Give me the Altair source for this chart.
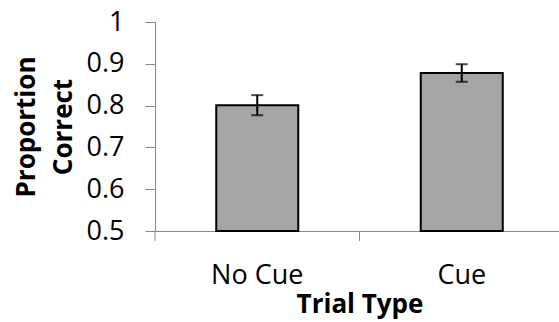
import altair as alt
import pandas as pd

categories = ["No Cue", "Cue"]
values = [0.801, 0.878]
errors = [0.024, 0.021]

df = pd.DataFrame({
    "cat": categories,
    "val": values,
    "lo": [v - e for v, e in zip(values, errors)],
    "hi": [v + e for v, e in zip(values, errors)],
})

W, H = 404, 209
FONT = "Open Sans"
AX = "#868686"

xscale = alt.Scale(domain=categories, range=[0, 409], paddingInner=0, paddingOuter=0)
yscale = alt.Scale(domain=[0.5, 1], zero=False, nice=False)

xaxis = alt.Axis(title="Trial Type", ticks=False, labelAngle=0,
                 labelFont=FONT, labelFontSize=27, labelColor="black",
                 labelBaseline="alphabetic", labelPadding=52,
                 domainColor=AX, domainWidth=1, grid=False,
                 titleFont=FONT, titleFontSize=26, titleFontWeight="bold",
                 titleColor="black", titleBaseline="alphabetic",
                 titleX=204.5, titleY=81, titleAlign="center")
yaxis = alt.Axis(title=["Proportion", "Correct"],
                 values=[0.5, 0.6, 0.7, 0.8, 0.9, 1.0], format="~g",
                 tickSize=10, tickColor=AX, domainColor=AX, grid=False,
                 labelFont=FONT, labelFontSize=27, labelColor="black",
                 labelPadding=21,
                 titleFont=FONT, titleFontSize=26, titleFontWeight="bold",
                 titleColor="black", titleBaseline="alphabetic",
                 titleLineHeight=37, titleAngle=-90,
                 titleX=-121, titleY=104.5, titleAlign="center")

X = alt.X("cat:N", scale=xscale, sort=categories, axis=xaxis)

base = alt.Chart(df)

bars = base.mark_bar(width=82, fill="#a5a5a5", stroke="black", strokeWidth=2).encode(
    x=X,
    y=alt.Y("val:Q", scale=yscale, axis=yaxis),
    y2=alt.datum(0.5),
)

err = base.mark_rule(color="black", strokeWidth=2).encode(
    x=X,
    y=alt.Y("lo:Q", scale=yscale, axis=yaxis),
    y2="hi:Q",
)

caps_hi = base.mark_tick(color="black", size=12, thickness=2, orient="horizontal").encode(
    x=X,
    y=alt.Y("hi:Q", scale=yscale, axis=yaxis),
)
caps_lo = base.mark_tick(color="black", size=12, thickness=2, orient="horizontal").encode(
    x=X,
    y=alt.Y("lo:Q", scale=yscale, axis=yaxis),
)

xticks = base.mark_rule(color=AX, strokeWidth=1).encode(
    x=alt.X("cat:N", scale=xscale, sort=categories, axis=xaxis, bandPosition=0),
    y=alt.value(H),
    y2=alt.value(H + 10),
)

chart = alt.layer(bars, err, caps_hi, caps_lo, xticks).properties(
    width=W, height=H,
    background="white",
    autosize=alt.AutoSizeParams(type="none"),
    padding={"left": 155, "top": 22, "right": 0, "bottom": 91},
).configure_view(stroke=None)

chart.save("out.html", embed_options={"renderer": "svg", "actions": False})
